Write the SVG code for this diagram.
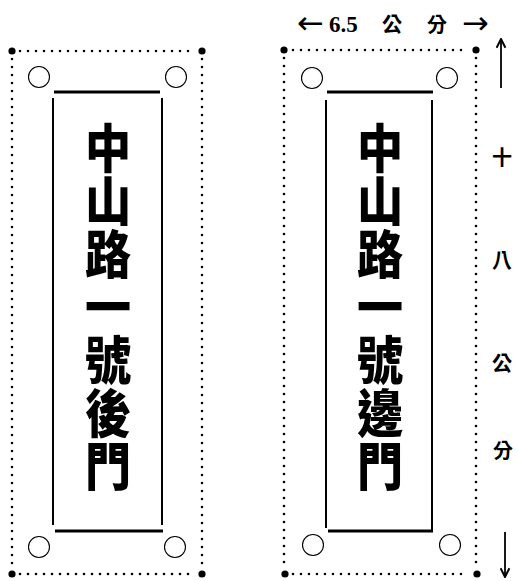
<svg xmlns="http://www.w3.org/2000/svg" width="518" height="581" viewBox="0 0 518 581">
<style>
.dot{fill:none;stroke:#000;stroke-width:2.6;stroke-linecap:round;stroke-dasharray:0 8}
.cd{fill:#000}
.hole{fill:none;stroke:#000;stroke-width:1.1}
.hl{stroke:#000;stroke-width:3}
.vl{stroke:#000;stroke-width:2}
.big{font-family:"Noto Sans CJK TC","Noto Sans CJK SC",sans-serif;font-weight:900;font-size:48px;text-anchor:middle;fill:#000}
.dim{font-family:"Liberation Serif","Noto Sans CJK TC",serif;font-weight:bold;font-size:23px;fill:#000}
.dimc{font-family:"Noto Sans CJK TC",sans-serif;font-weight:700;font-size:20px;fill:#000}
.ar{font-family:"DejaVu Sans",sans-serif;font-size:32px;fill:#000}
.vt{font-family:"Noto Sans CJK TC",sans-serif;font-weight:700;font-size:20px;text-anchor:middle;fill:#000}
.arr{fill:none;stroke:#000;stroke-width:1.8}
</style>
<defs>
<marker id="ah" viewBox="0 0 10 10" refX="9" refY="5" markerWidth="11" markerHeight="11" markerUnits="userSpaceOnUse" orient="auto">
<path d="M1,1 L9,5 L1,9" fill="none" stroke="#000" stroke-width="1.8"/>
</marker>
</defs>
<rect width="518" height="581" fill="#fff"/>
<g id="plate-left">
<path class="dot" d="M20,51 H196 M20,574 H196 M12,59 V567 M202,59 V567"/>
<circle class="cd" cx="12" cy="51" r="3.6"/><circle class="cd" cx="202" cy="51" r="3.6"/>
<circle class="cd" cx="12" cy="574" r="3.6"/><circle class="cd" cx="202" cy="574" r="3.6"/>
<circle class="hole" cx="39" cy="77" r="10.5"/><circle class="hole" cx="176" cy="77" r="10.5"/>
<circle class="hole" cx="39" cy="547" r="10.5"/><circle class="hole" cx="175" cy="547" r="10.5"/>
<line class="hl" x1="54" y1="92" x2="160" y2="92"/><line class="hl" x1="55" y1="531" x2="163" y2="531"/>
<line class="vl" x1="53" y1="98" x2="53" y2="525"/><line class="vl" x1="162" y1="98" x2="162" y2="525"/>
<g transform="translate(108,0) scale(0.96,1.08)">
<text class="big" x="0" y="156">中</text>
<text class="big" x="0" y="205">山</text>
<text class="big" x="0" y="254">路</text>
<text class="big" x="0" y="303">一</text>
<text class="big" x="0" y="352">號</text>
<text class="big" x="0" y="401">後</text>
<text class="big" x="0" y="450">門</text>
</g>
</g>
<g id="plate-right">
<path class="dot" d="M293,50 H469 M293,574 H469 M284,58 V566 M476,58 V566"/>
<circle class="cd" cx="284" cy="50" r="3.6"/><circle class="cd" cx="476" cy="50" r="3.6"/>
<circle class="cd" cx="285" cy="574" r="3.6"/><circle class="cd" cx="477" cy="574" r="3.6"/>
<circle class="hole" cx="312" cy="78" r="10.5"/><circle class="hole" cx="447" cy="78" r="10.5"/>
<circle class="hole" cx="313" cy="545" r="10.5"/><circle class="hole" cx="450" cy="545" r="10.5"/>
<line class="hl" x1="327" y1="92" x2="433" y2="92"/><line class="hl" x1="328" y1="531" x2="433" y2="531"/>
<line class="vl" x1="326" y1="100" x2="326" y2="528"/><line class="vl" x1="432" y1="100" x2="432" y2="531"/>
<g transform="translate(380,0) scale(0.96,1.08)">
<text class="big" x="0" y="156">中</text>
<text class="big" x="0" y="205">山</text>
<text class="big" x="0" y="254">路</text>
<text class="big" x="0" y="303">一</text>
<text class="big" x="0" y="352">號</text>
<text class="big" x="0" y="401">邊</text>
<text class="big" x="0" y="450">門</text>
</g>
</g>
<g id="dimension-width">
<text x="297" y="34"><tspan class="ar">←</tspan><tspan class="dim" x="329" y="32">6.5</tspan><tspan class="dimc" x="382" y="32">公</tspan><tspan class="dimc" x="427" y="32">分</tspan><tspan class="ar" x="462" y="34">→</tspan></text>
</g>
<g id="dimension-height">
<text class="vt" x="502" y="165">十</text>
<text class="vt" x="502" y="268">八</text>
<text class="vt" x="502" y="371">公</text>
<text class="vt" x="503" y="458">分</text>
</g>
<g id="connectors">
<path class="arr" d="M501,88 V39" marker-end="url(#ah)"/>
<path class="arr" d="M505,532 V577" marker-end="url(#ah)"/>
</g>
</svg>
